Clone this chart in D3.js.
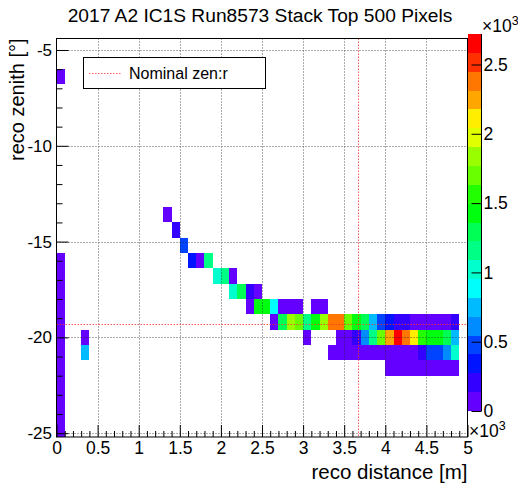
<!DOCTYPE html>
<html>
<head>
<meta charset="utf-8">
<script src="https://cdn.jsdelivr.net/npm/d3@7"></script>
<style>
  html, body { margin: 0; padding: 0; background: #fff; }
  svg { display: block; font-family: "Liberation Sans", Arial, Helvetica, sans-serif; }
</style>
</head>
<body>
<svg id="chart" width="518" height="487"></svg>
<script>
// ---- histogram content: lower bin edges (distance in m, zenith in deg) and counts ----
const xBinWidth = 0.1;
const yBinWidth = 0.8;

const cellX = [
  0,
  0, 0, 0, 0, 0, 0, 0, 0, 0, 0, 0, 0,
  0.3, 0.3,
  1.3, 1.4, 1.5,
  1.6, 1.7, 1.8,
  1.9, 2.0, 2.1,
  2.1, 2.2, 2.3, 2.4,
  2.3, 2.4, 2.5, 2.6, 2.7, 2.8, 2.9, 3.1, 3.2,
  2.6, 2.7, 2.8, 2.9, 3.0, 3.1, 3.2, 3.3, 3.4, 3.5, 3.6, 3.7, 3.8, 3.9, 4.0, 4.1, 4.2, 4.3, 4.4, 4.5, 4.6, 4.7, 4.8,
  3.0, 3.4, 3.5, 3.6, 3.7, 3.8, 3.9, 4.0, 4.1, 4.2, 4.3, 4.4, 4.5, 4.6, 4.7, 4.8,
  3.3, 3.4, 3.5, 3.6, 3.7, 3.8, 3.9, 4.0, 4.1, 4.2, 4.3, 4.4, 4.5, 4.6, 4.7, 4.8,
  4.0, 4.1, 4.2, 4.3, 4.4, 4.5, 4.6, 4.7, 4.8
];

const cellY = [
  -6.8,
  -25.2, -24.4, -23.6, -22.8, -22.0, -21.2, -20.4, -19.6, -18.8, -18.0, -17.2, -16.4,
  -20.4, -21.2,
  -14.0, -14.8, -15.6,
  -16.4, -16.4, -16.4,
  -17.2, -17.2, -17.2,
  -18.0, -18.0, -18.0, -18.0,
  -18.8, -18.8, -18.8, -18.8, -18.8, -18.8, -18.8, -18.8, -18.8,
  -19.6, -19.6, -19.6, -19.6, -19.6, -19.6, -19.6, -19.6, -19.6, -19.6, -19.6, -19.6, -19.6, -19.6, -19.6, -19.6, -19.6, -19.6, -19.6, -19.6, -19.6, -19.6, -19.6,
  -20.4, -20.4, -20.4, -20.4, -20.4, -20.4, -20.4, -20.4, -20.4, -20.4, -20.4, -20.4, -20.4, -20.4, -20.4, -20.4,
  -21.2, -21.2, -21.2, -21.2, -21.2, -21.2, -21.2, -21.2, -21.2, -21.2, -21.2, -21.2, -21.2, -21.2, -21.2, -21.2,
  -22.0, -22.0, -22.0, -22.0, -22.0, -22.0, -22.0, -22.0, -22.0
];

const cellCount = [
  52,
  95, 110, 102, 98, 88, 91, 85, 79, 83, 76, 70, 64,
  120, 760,
  105, 230, 470,
  350, 115, 1170,
  1030, 1150, 120,
  1010, 1300, 215, 95,
  110, 1420, 1440, 890, 75, 80, 60, 70, 85,
  125, 1290, 1830, 1710, 1160, 1430, 1850, 2390, 2400, 1720, 1450, 1310, 740, 480, 330, 240, 220, 120, 110, 105, 100, 115, 190,
  40, 90, 110, 200, 600, 1140, 1690, 2260, 2720, 2370, 2120, 1570, 1420, 1400, 1280, 770,
  95, 100, 110, 105, 112, 118, 120, 115, 125, 122, 128, 250, 460, 450, 590, 1000,
  80, 95, 105, 110, 100, 95, 90, 88, 85
];

// axis tick values
const xMajorTicks = [0, 0.5, 1, 1.5, 2, 2.5, 3, 3.5, 4, 4.5, 5];
const xMinorTicks = d3.range(0, 51).filter(i => i % 5 !== 0).map(i => i / 10);
const yMajorTicks = [-5, -10, -15, -20, -25];
const yMinorTicks = d3.range(-25, -4).filter(v => v % 5 !== 0);
const zTicks = [0, 500, 1000, 1500, 2000, 2500];

// reference markers
const nominalDistance = 3.67;
const nominalZenith = -19.3;

const titleText = "2017 A2 IC1S Run8573 Stack Top 500 Pixels";
const xTitle = "reco distance [m]";
const yTitle = "reco zenith [°]";
const legendText = "Nominal zen:r";

// ---- layout ----
const svg = d3.select("#chart");
const frame = { left: 56.5, right: 467.5, top: 38.5, bottom: 437 };
const bar = { left: 468, right: 481.5, top: 34, bottom: 411 };
const fontMain = "\"Liberation Sans\", Arial, Helvetica, sans-serif";

const x = d3.scaleLinear().domain([0, 5]).range([frame.left, frame.right]);
const y = d3.scaleLinear().domain([-25.2, -4.4]).range([frame.bottom, frame.top]);

// colour levels: 20 contours over [0, max], spectrum violet -> red
const nLevels = 20;
const nPalette = 50;
const zMax = d3.max(cellCount);
const z = d3.scaleLinear().domain([0, zMax]).range([bar.bottom, bar.top]);

function levelColor(k) {
  const idx = Math.floor((k + 0.99) * nPalette / nLevels);
  const hue = 280 - (idx + 1) * (280 / nPalette);
  return d3.hsl(hue, 1, 0.5).formatHex();
}
function countColor(v) {
  const k = Math.min(nLevels - 1, Math.floor(v / zMax * nLevels));
  return levelColor(k);
}

svg.append("rect").attr("width", 518).attr("height", 487).attr("fill", "#fff");

// ---- cells ----
svg.append("g")
  .selectAll("rect")
  .data(d3.range(cellCount.length))
  .join("rect")
  .attr("x", i => x(cellX[i]))
  .attr("y", i => y(cellY[i] + yBinWidth))
  .attr("width", i => x(cellX[i] + xBinWidth) - x(cellX[i]))
  .attr("height", i => y(cellY[i]) - y(cellY[i] + yBinWidth))
  .attr("fill", i => countColor(cellCount[i]))
  .attr("shape-rendering", "crispEdges");

// ---- grid ----
const grid = svg.append("g")
  .attr("stroke", "#222")
  .attr("stroke-width", 1)
  .attr("stroke-dasharray", "1,2")
  .attr("opacity", 0.75);
grid.selectAll("line.gx")
  .data(xMajorTicks.filter(v => v > 0 && v < 5))
  .join("line")
  .attr("class", "gx")
  .attr("x1", d => Math.round(x(d)) + 0.5).attr("x2", d => Math.round(x(d)) + 0.5)
  .attr("y1", frame.top).attr("y2", frame.bottom);
grid.selectAll("line.gy")
  .data(yMajorTicks)
  .join("line")
  .attr("class", "gy")
  .attr("y1", d => Math.round(y(d)) + 0.5).attr("y2", d => Math.round(y(d)) + 0.5)
  .attr("x1", frame.left).attr("x2", frame.right);

// ---- nominal markers ----
const red = svg.append("g")
  .attr("stroke", "#ff3030")
  .attr("stroke-width", 1)
  .attr("stroke-dasharray", "1.5,1.5")
  .attr("opacity", 0.8);
red.append("line")
  .attr("x1", frame.left).attr("x2", frame.right)
  .attr("y1", Math.round(y(nominalZenith)) + 0.5).attr("y2", Math.round(y(nominalZenith)) + 0.5);
red.append("line")
  .attr("x1", Math.round(x(nominalDistance)) + 0.5).attr("x2", Math.round(x(nominalDistance)) + 0.5)
  .attr("y1", frame.top).attr("y2", frame.bottom);

// ---- axes ----
function styleAxis(g, size) {
  g.select(".domain").remove();
  g.selectAll("line").attr("stroke", "#000");
  g.selectAll("text").attr("fill", "#000").attr("font-size", size).attr("font-family", fontMain);
}

svg.append("g")
  .attr("transform", `translate(0,${frame.bottom})`)
  .call(d3.axisBottom(x).tickValues(xMinorTicks).tickSize(-6).tickFormat(""))
  .call(g => styleAxis(g, 17.5));
svg.append("g")
  .attr("transform", `translate(0,${frame.bottom})`)
  .call(d3.axisBottom(x).tickValues(xMajorTicks).tickSize(-12).tickPadding(4.5).tickFormat(d3.format("~g")))
  .call(g => styleAxis(g, 17.5));

svg.append("g")
  .attr("transform", `translate(${frame.left},0)`)
  .call(d3.axisLeft(y).tickValues(yMinorTicks).tickSize(-6).tickFormat(""))
  .call(g => styleAxis(g, 17));
svg.append("g")
  .attr("transform", `translate(${frame.left},0)`)
  .call(d3.axisLeft(y).tickValues(yMajorTicks).tickSize(-12).tickPadding(4.5).tickFormat(d => String(d)))
  .call(g => styleAxis(g, 17));

// frame
svg.append("rect")
  .attr("x", frame.left).attr("y", frame.top)
  .attr("width", frame.right - frame.left).attr("height", frame.bottom - frame.top)
  .attr("fill", "none").attr("stroke", "#000").attr("stroke-width", 1);

// ---- colour bar ----
const bands = d3.range(nLevels);
svg.append("g")
  .selectAll("rect")
  .data(bands)
  .join("rect")
  .attr("x", bar.left)
  .attr("width", bar.right - bar.left)
  .attr("y", k => z((k + 1) * zMax / nLevels))
  .attr("height", k => z(k * zMax / nLevels) - z((k + 1) * zMax / nLevels))
  .attr("fill", k => levelColor(k))
  .attr("shape-rendering", "crispEdges");

svg.append("g")
  .attr("transform", `translate(${bar.right},0)`)
  .call(d3.axisRight(z).tickValues(zTicks).tickSize(-10).tickPadding(2).tickFormat(d => d3.format("~g")(d / 1000)))
  .call(g => {
    g.select(".domain").attr("stroke", "#000").attr("d", `M0,${bar.top}V${bar.bottom}`);
    g.selectAll("line").attr("stroke", "#000");
    g.selectAll("text").attr("fill", "#000").attr("font-size", 17.5).attr("font-family", fontMain);
  });

function exponentLabel(xPos, yPos) {
  const t = svg.append("text")
    .attr("x", xPos).attr("y", yPos)
    .attr("font-size", 17.5).attr("font-family", fontMain).attr("fill", "#000");
  t.append("tspan").text("×10");
  t.append("tspan").attr("dy", -7).attr("font-size", 12.5).text("3");
}
exponentLabel(482, 32);
exponentLabel(469, 437);

// ---- legend ----
const legend = svg.append("g");
legend.append("rect")
  .attr("x", 83.5).attr("y", 57.5).attr("width", 182).attr("height", 31)
  .attr("fill", "#fff").attr("stroke", "#000").attr("stroke-width", 1);
legend.append("line")
  .attr("x1", 89).attr("x2", 121).attr("y1", 73.5).attr("y2", 73.5)
  .attr("stroke", "#ff3030").attr("stroke-dasharray", "1.5,1.5").attr("opacity", 0.8);
legend.append("text")
  .attr("x", 129).attr("y", 79)
  .attr("font-size", 16).attr("font-family", fontMain).attr("fill", "#000")
  .text(legendText);

// ---- titles ----
svg.append("text")
  .attr("x", 260).attr("y", 22)
  .attr("text-anchor", "middle")
  .attr("font-size", 19.2).attr("font-family", fontMain).attr("fill", "#000")
  .text(titleText);

svg.append("text")
  .attr("x", frame.right).attr("y", 478.5)
  .attr("text-anchor", "end")
  .attr("font-size", 20.5).attr("font-family", fontMain).attr("fill", "#000")
  .text(xTitle);

svg.append("text")
  .attr("transform", `translate(24,${frame.top}) rotate(-90)`)
  .attr("text-anchor", "end")
  .attr("font-size", 20).attr("font-family", fontMain).attr("fill", "#000")
  .text(yTitle);
</script>
</body>
</html>
